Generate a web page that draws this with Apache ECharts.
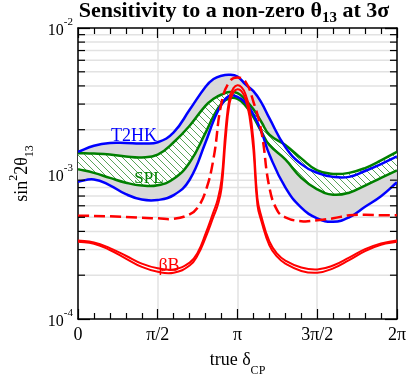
<!DOCTYPE html>
<html><head><meta charset="utf-8">
<script src="https://cdn.jsdelivr.net/npm/echarts@6/dist/echarts.min.js"></script>
<style>html,body{margin:0;padding:0;background:#fff}#c{width:409px;height:382px}</style>
</head><body><div id="c"></div>
<script>
// ---- data (x in units of pi) ----
const xTickLabels = ['0', 'π/2', 'π', '3π/2', '2π'];
const yMinorTickValues = [2e-4,3e-4,4e-4,5e-4,6e-4,7e-4,8e-4,9e-4,2e-3,3e-3,4e-3,5e-3,6e-3,7e-3,8e-3,9e-3];
const yGridValues = [2e-4,3e-4,4e-4,5e-4,6e-4,7e-4,8e-4,9e-4,1e-3,2e-3,3e-3,4e-3,5e-3,6e-3,7e-3,8e-3,9e-3];

const deltaBand = [0,0.1,0.2,0.3,0.4,0.5,0.6,0.7,0.8,0.85,0.9,0.95,1.0,1.05,1.1,1.15,1.2,1.3,1.4,1.5,1.6,1.7,1.8,1.9,2.0];
const t2hkUpper = [1.41e-3,1.55e-3,1.62e-3,1.62e-3,1.61e-3,1.64e-3,1.92e-3,2.74e-3,3.95e-3,4.46e-3,4.70e-3,4.77e-3,4.63e-3,4.10e-3,3.68e-3,3.07e-3,2.40e-3,1.52e-3,1.16e-3,1.01e-3,9.48e-4,9.48e-4,1.04e-3,1.16e-3,1.31e-3];
const t2hkLower = [8.79e-4,9.10e-4,8.30e-4,7.21e-4,6.62e-4,6.58e-4,7.10e-4,9.06e-4,1.64e-3,2.30e-3,2.98e-3,3.43e-3,3.36e-3,3.07e-3,2.55e-3,1.94e-3,1.35e-3,8.02e-4,5.83e-4,4.92e-4,4.66e-4,5.00e-4,5.91e-4,6.98e-4,8.70e-4];
const splUpper = [1.38e-3,1.37e-3,1.35e-3,1.31e-3,1.29e-3,1.35e-3,1.64e-3,2.13e-3,2.93e-3,3.26e-3,3.49e-3,3.63e-3,3.57e-3,3.21e-3,2.76e-3,2.26e-3,1.85e-3,1.57e-3,1.27e-3,1.05e-3,9.93e-4,1.01e-3,1.09e-3,1.23e-3,1.41e-3];
const splLower = [1.07e-3,1.01e-3,9.33e-4,8.65e-4,8.26e-4,8.30e-4,9.21e-4,1.19e-3,1.91e-3,2.48e-3,3.02e-3,3.29e-3,3.26e-3,2.93e-3,2.44e-3,1.94e-3,1.57e-3,1.25e-3,9.33e-4,7.78e-4,7.15e-4,7.38e-4,8.26e-4,9.33e-4,1.05e-3];

const deltaDashed = [0,0.2,0.4,0.5,0.6,0.7,0.75,0.8,0.85,0.9,0.95,1.0,1.05,1.1,1.15,1.2,1.25,1.3,1.4,1.5,1.6,1.7,1.8,1.9,2.0];
const betaBDashed = [5.13e-4,5.08e-4,4.96e-4,4.92e-4,4.88e-4,5.24e-4,5.83e-4,7.54e-4,1.27e-3,3.07e-3,4.28e-3,4.56e-3,4.28e-3,3.11e-3,1.94e-3,8.02e-4,5.56e-4,5.00e-4,4.70e-4,4.77e-4,4.92e-4,5.16e-4,5.20e-4,5.16e-4,5.16e-4];

const deltaBetaB = [0,0.1,0.2,0.3,0.4,0.5,0.6,0.7,0.75,0.8,0.85,0.875,0.9,0.925,0.95,0.975,1.0,1.025,1.05,1.075,1.1,1.125,1.15,1.2,1.25,1.3,1.4,1.5,1.6,1.7,1.8,1.9,2.0];
const betaBSolidA = [3.47e-4,3.36e-4,3.07e-4,2.72e-4,2.40e-4,2.23e-4,2.19e-4,2.44e-4,2.85e-4,3.86e-4,5.47e-4,6.58e-4,9.06e-4,1.97e-3,3.31e-3,3.86e-3,4.04e-3,3.92e-3,3.52e-3,2.80e-3,1.69e-3,6.78e-4,5.07e-4,3.41e-4,2.80e-4,2.52e-4,2.26e-4,2.19e-4,2.33e-4,2.64e-4,3.02e-4,3.31e-4,3.47e-4];
const betaBSolidB = [3.39e-4,3.29e-4,2.98e-4,2.60e-4,2.28e-4,2.11e-4,2.08e-4,2.33e-4,2.74e-4,3.63e-4,5.07e-4,6.00e-4,7.89e-4,1.69e-3,3.02e-3,3.63e-3,3.79e-3,3.68e-3,3.26e-3,2.48e-3,1.45e-3,6.09e-4,4.70e-4,3.21e-4,2.67e-4,2.40e-4,2.14e-4,2.08e-4,2.23e-4,2.54e-4,2.93e-4,3.24e-4,3.39e-4];

// ---- rendering helpers ----
const FONT = '"Liberation Serif", "Times New Roman", serif';
const BLUE = '#0000ff', GREEN = '#008000', RED = '#ff0000';
const SMOOTH = 0.45;

// pixel points through the chart's own scales
function toPixels(api, xs, ys) { return xs.map((x, i) => api.coord([x, ys[i]])); }

// cubic smoothing of a pixel polyline (rendering only)
function smoothSegments(p, s) {
  const n = p.length, cin = [], cout = [];
  for (let i = 0; i < n; i++) {
    const pr = p[Math.max(i - 1, 0)], nx = p[Math.min(i + 1, n - 1)], c = p[i];
    const dx = nx[0] - pr[0], dy = nx[1] - pr[1];
    const lp = Math.hypot(c[0] - pr[0], c[1] - pr[1]);
    const ln = Math.hypot(nx[0] - c[0], nx[1] - c[1]);
    const r = (lp + ln) > 0 ? ln / (lp + ln) : 0.5;
    cout.push([c[0] + dx * s * r, c[1] + dy * s * r]);
    cin.push([c[0] - dx * s * (1 - r), c[1] - dy * s * (1 - r)]);
  }
  let d = '';
  for (let i = 0; i < n - 1; i++) {
    d += ' C' + cout[i][0] + ' ' + cout[i][1] + ' ' + cin[i + 1][0] + ' ' + cin[i + 1][1] + ' ' + p[i + 1][0] + ' ' + p[i + 1][1];
  }
  return d;
}
function curvePath(p) { return 'M' + p[0][0] + ' ' + p[0][1] + smoothSegments(p, SMOOTH); }
function bandPath(up, lo) {
  const rl = lo.slice().reverse();
  return 'M' + up[0][0] + ' ' + up[0][1] + smoothSegments(up, SMOOTH) +
    ' L' + rl[0][0] + ' ' + rl[0][1] + smoothSegments(rl, SMOOTH) + ' Z';
}

// hatch pattern
const hc = document.createElement('canvas');
hc.width = 7; hc.height = 7;
const hx = hc.getContext('2d');
hx.fillStyle = '#ffffff'; hx.fillRect(0, 0, 7, 7);
hx.strokeStyle = '#2e8b2e'; hx.lineWidth = 0.8;
hx.beginPath();
hx.moveTo(-1, -1); hx.lineTo(8, 8);
hx.moveTo(-1, 6); hx.lineTo(1, 8);
hx.moveTo(6, -1); hx.lineTo(8, 1);
hx.stroke();

function curveSeries(name, xs, ys, style, z) {
  return {
    type: 'custom', name, silent: true, z, clip: true, xAxisIndex: 0, yAxisIndex: 0,
    data: xs.map((x, i) => [x, ys[i]]),
    renderItem: (params, api) => {
      if (params.dataIndex !== 0) return null;
      return { type: 'path', shape: { pathData: curvePath(toPixels(api, xs, ys)) }, style: Object.assign({ fill: null }, style) };
    }
  };
}
function bandSeries(name, xs, up, lo, fill, z) {
  return {
    type: 'custom', name, silent: true, z, clip: true, xAxisIndex: 0, yAxisIndex: 0,
    data: xs.map((x, i) => [x, up[i]]),
    renderItem: (params, api) => {
      if (params.dataIndex !== 0) return null;
      return { type: 'path', shape: { pathData: bandPath(toPixels(api, xs, up), toPixels(api, xs, lo)) }, style: { fill, stroke: null } };
    }
  };
}

const chart = echarts.init(document.getElementById('c'), null, { renderer: 'canvas' });

const option = {
  animation: false,
  grid: { left: 72, right: 12, top: 28, bottom: 51, containLabel: false },
  xAxis: [
    {
      type: 'value', min: 0, max: 2, interval: 0.5, position: 'bottom',
      axisLine: { show: true, onZero: false, lineStyle: { color: '#000', width: 1.5 } },
      axisTick: { show: true, inside: true, length: 10, lineStyle: { color: '#000', width: 1.2 } },
      minorTick: { show: true, splitNumber: 5, length: 6, lineStyle: { color: '#000', width: 1.2 } },
      splitLine: { show: true, lineStyle: { color: '#e2e2e2', width: 1.5 } },
      axisLabel: {
        margin: 7, color: '#000', fontFamily: FONT, fontSize: 18,
        formatter: v => xTickLabels[Math.round(v / 0.5)]
      },
      name: '{a|true δ}{s|CP}', nameLocation: 'middle', nameGap: 32,
      nameTextStyle: {
        rich: {
          a: { fontFamily: FONT, fontSize: 18, color: '#000', lineHeight: 26, verticalAlign: 'top' },
          s: { fontFamily: FONT, fontSize: 12, color: '#000', lineHeight: 12, verticalAlign: 'bottom' }
        }
      }
    },
    {
      type: 'value', min: 0, max: 2, interval: 0.5, position: 'top',
      axisLine: { show: true, onZero: false, lineStyle: { color: '#000', width: 1.5 } },
      axisTick: { show: true, inside: true, length: 10, lineStyle: { color: '#000', width: 1.2 } },
      minorTick: { show: true, splitNumber: 5, length: 6, lineStyle: { color: '#000', width: 1.2 } },
      splitLine: { show: false }, axisLabel: { show: false }
    }
  ],
  yAxis: [
    {
      type: 'log', logBase: 10, min: 1e-4, max: 1e-2, position: 'left',
      axisLine: { show: true, onZero: false, lineStyle: { color: '#000', width: 1.5 } },
      axisTick: { show: true, inside: true, length: 12, lineStyle: { color: '#000', width: 1.2 } },
      splitLine: { show: false }, minorTick: { show: false },
      axisLabel: {
        margin: 5, showMinLabel: true, showMaxLabel: true,
        formatter: v => '{b|10}{e|' + Math.round(Math.log10(v)) + '}',
        rich: {
          b: { fontFamily: FONT, fontSize: 16, color: '#000', lineHeight: 22, verticalAlign: 'bottom' },
          e: { fontFamily: FONT, fontSize: 11, color: '#000', lineHeight: 10, verticalAlign: 'top' }
        }
      },
      name: '{a|sin}{p|2}{a|2θ}{s|13}', nameLocation: 'middle', nameGap: 42, nameRotate: 90,
      nameTextStyle: {
        rich: {
          a: { fontFamily: FONT, fontSize: 18, color: '#000', lineHeight: 28, verticalAlign: 'middle' },
          p: { fontFamily: FONT, fontSize: 12, color: '#000', lineHeight: 12, verticalAlign: 'top' },
          s: { fontFamily: FONT, fontSize: 12, color: '#000', lineHeight: 12, verticalAlign: 'bottom' }
        }
      }
    },
    {
      type: 'log', logBase: 10, min: 1e-4, max: 1e-2, position: 'right',
      axisLine: { show: true, onZero: false, lineStyle: { color: '#000', width: 1.5 } },
      axisTick: { show: true, inside: true, length: 12, lineStyle: { color: '#000', width: 1.2 } },
      splitLine: { show: false }, axisLabel: { show: false }, minorTick: { show: false }
    }
  ],
  graphic: [
    {
      type: 'text', x: 234, y: 0, z: 100,
      style: {
        text: '{a|Sensitivity to a non-zero θ}{s|13}{a| at 3σ}', align: 'center',
        rich: {
          a: { fontFamily: FONT, fontSize: 22, fontWeight: 'bold', fill: '#000', lineHeight: 26, verticalAlign: 'top' },
          s: { fontFamily: FONT, fontSize: 15, fontWeight: 'bold', fill: '#000', lineHeight: 13, verticalAlign: 'bottom' }
        }
      }
    },
    { type: 'text', x: 134, y: 136, z: 100, style: { text: 'T2HK', fill: BLUE, font: '18px ' + FONT, align: 'center', verticalAlign: 'middle' } },
    { type: 'text', x: 149, y: 179, z: 100, style: { text: 'SPL', fill: GREEN, font: '17px ' + FONT, align: 'center', verticalAlign: 'middle' } },
    { type: 'text', x: 169, y: 266, z: 100, style: { text: 'βB', fill: RED, font: '18px ' + FONT, align: 'center', verticalAlign: 'middle' } }
  ],
  series: [
    {
      type: 'custom', name: 'ygrid', silent: true, z: 0, xAxisIndex: 0, yAxisIndex: 0,
      data: yGridValues.map(v => [0, v]),
      renderItem: (params, api) => {
        const v = api.value(1);
        const a = api.coord([0, v]), b = api.coord([2, v]);
        return { type: 'line', shape: { x1: a[0], y1: a[1], x2: b[0], y2: b[1] }, style: { stroke: '#e2e2e2', lineWidth: 1.5 } };
      }
    },
    bandSeries('T2HK band', deltaBand, t2hkUpper, t2hkLower, '#d9d9d9', 1),
    bandSeries('SPL band', deltaBand, splUpper, splLower, { image: hc, repeat: 'repeat' }, 2),
    curveSeries('SPL upper', deltaBand, splUpper, { stroke: GREEN, lineWidth: 2.5 }, 3),
    curveSeries('SPL lower', deltaBand, splLower, { stroke: GREEN, lineWidth: 2.5 }, 3),
    curveSeries('T2HK upper', deltaBand, t2hkUpper, { stroke: BLUE, lineWidth: 2.5 }, 4),
    curveSeries('T2HK lower', deltaBand, t2hkLower, { stroke: BLUE, lineWidth: 2.5 }, 4),
    curveSeries('betaB dashed', deltaDashed, betaBDashed, { stroke: RED, lineWidth: 2.5, lineDash: [11, 5] }, 5),
    curveSeries('betaB A', deltaBetaB, betaBSolidA, { stroke: RED, lineWidth: 2 }, 5),
    curveSeries('betaB B', deltaBetaB, betaBSolidB, { stroke: RED, lineWidth: 2 }, 5),
    {
      type: 'custom', name: 'yticks', silent: true, z: 10, xAxisIndex: 0, yAxisIndex: 0,
      data: yMinorTickValues.map(v => [0, v]),
      renderItem: (params, api) => {
        const v = api.value(1);
        const a = api.coord([0, v]), b = api.coord([2, v]);
        return { type: 'group', children: [
          { type: 'line', shape: { x1: a[0], y1: a[1], x2: a[0] + 7, y2: a[1] }, style: { stroke: '#000', lineWidth: 1.2 } },
          { type: 'line', shape: { x1: b[0] - 7, y1: b[1], x2: b[0], y2: b[1] }, style: { stroke: '#000', lineWidth: 1.2 } }
        ] };
      }
    }
  ]
};
chart.setOption(option);
</script>
</body></html>
